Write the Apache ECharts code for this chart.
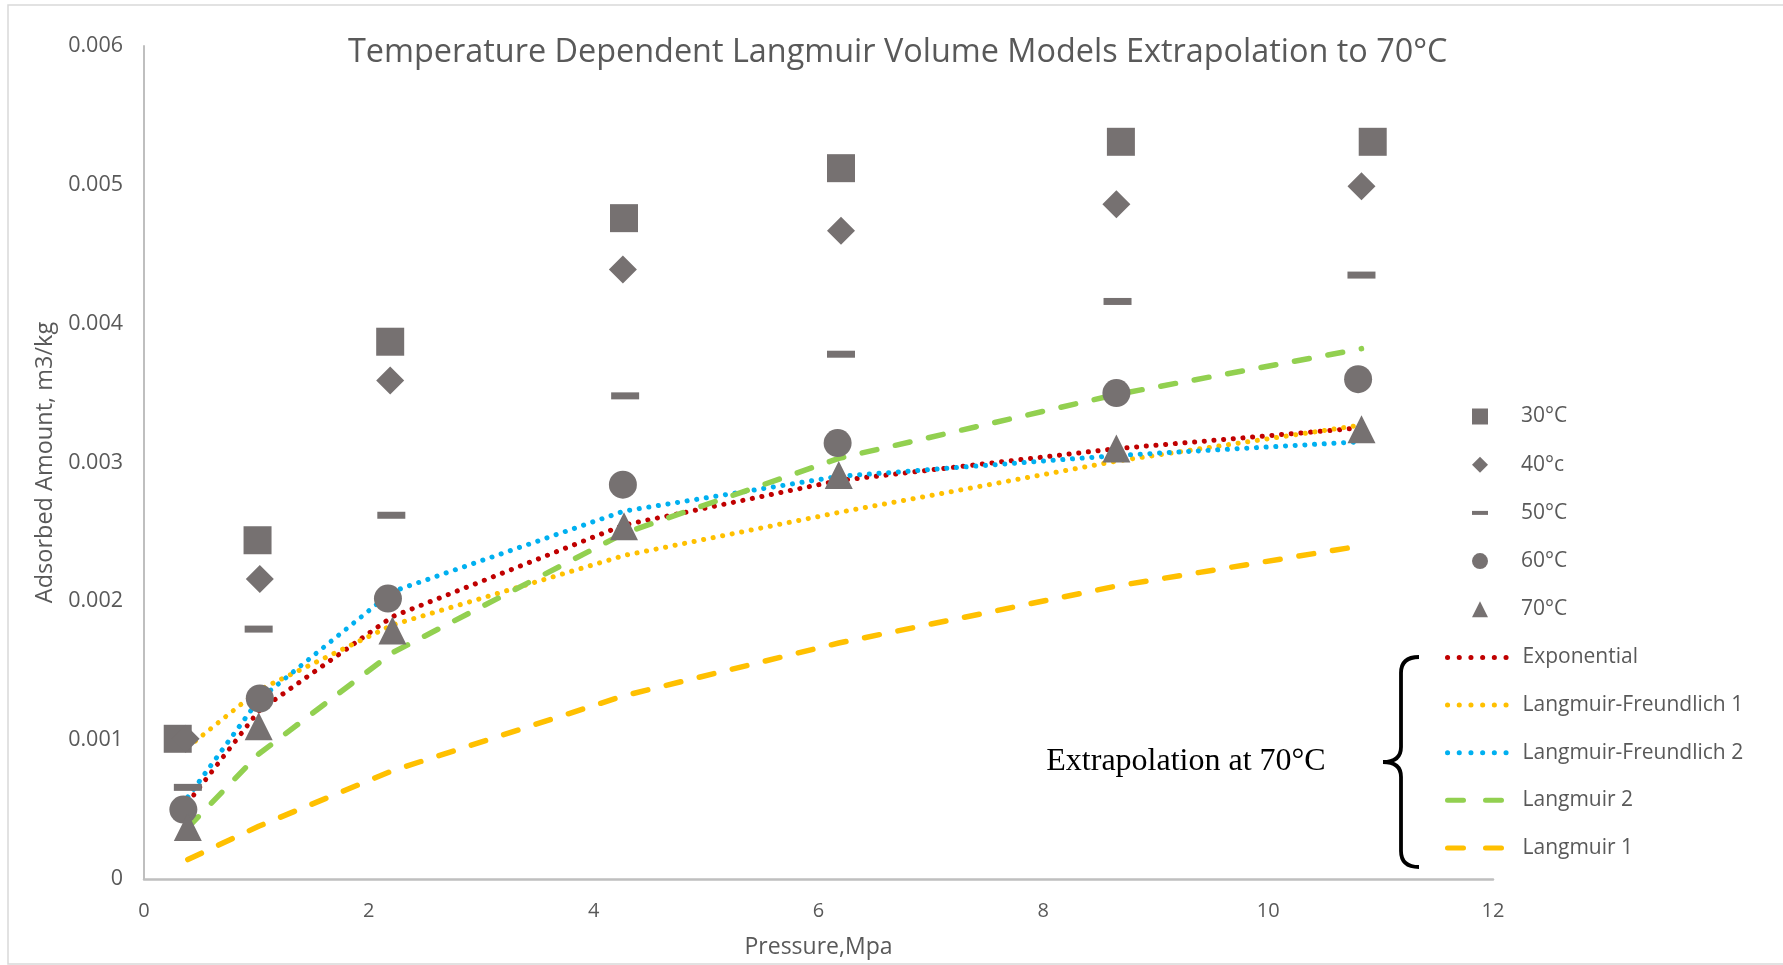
<!DOCTYPE html>
<html>
<head>
<meta charset="utf-8">
<script src="https://cdn.jsdelivr.net/npm/echarts@6/dist/echarts.min.js"></script>
<style>
  html, body { margin: 0; padding: 0; background: #fff; }
  #chart { width: 1783px; height: 965px; }
</style>
</head>
<body>
<div id="chart"></div>
<script>
// ---- data ----
const titleText = 'Temperature Dependent Langmuir Volume Models Extrapolation to 70°C';
const xAxisName = 'Pressure,Mpa';
const yAxisName = 'Adsorbed Amount, m3/kg';
const noteText = 'Extrapolation at 70°C';

// measured points (pressure MPa, adsorbed amount m3/kg)
const p30 = [0.30, 1.01, 2.19, 4.27, 6.20, 8.69, 10.93];
const v30 = [0.00101, 0.00244, 0.00387, 0.00476, 0.00512, 0.00531, 0.00531];
const p40 = [0.37, 1.03, 2.19, 4.26, 6.20, 8.65, 10.83];
const v40 = [0.00101, 0.00216, 0.00359, 0.00439, 0.00467, 0.00486, 0.00499];
const p50 = [0.39, 1.02, 2.20, 4.28, 6.20, 8.66, 10.83];
const v50 = [0.00066, 0.00180, 0.00262, 0.00348, 0.00378, 0.00416, 0.00435];
const p60 = [0.35, 1.03, 2.17, 4.26, 6.17, 8.65, 10.80];
const v60 = [0.00050, 0.00130, 0.00202, 0.00284, 0.00314, 0.00350, 0.00360];
const p70 = [0.39, 1.02, 2.21, 4.27, 6.18, 8.65, 10.83];
const v70 = [0.000375, 0.00110, 0.00179, 0.00254, 0.00291, 0.00310, 0.00324];

// model extrapolations at 70°C
const pModel = [0.39, 1.02, 2.21, 4.27, 6.18, 8.65, 10.83];
const exponential = [0.00055, 0.00121, 0.00189, 0.00255, 0.00287, 0.00310, 0.00325];
const langFreund1 = [0.00095, 0.00136, 0.00183, 0.00233, 0.00264, 0.00301, 0.00327];
const langFreund2 = [0.00059, 0.00129, 0.00207, 0.00265, 0.00290, 0.00305, 0.00315];
const langmuir2   = [0.00037, 0.00090, 0.00163, 0.00249, 0.00303, 0.00349, 0.00382];
const langmuir1   = [0.00014, 0.00038, 0.00078, 0.00132, 0.00170, 0.00211, 0.00240];

const pointNames = ['30°C', '40°c', '50°C', '60°C', '70°C'];
const modelNames = ['Exponential', 'Langmuir-Freundlich 1', 'Langmuir-Freundlich 2', 'Langmuir 2', 'Langmuir 1'];

const xTicks = { min: 0, max: 12, interval: 2 };
const yTicks = { min: 0, max: 0.006, interval: 0.001 };

// ---- helpers ----
const zip = (xs, ys) => xs.map((x, i) => [x, ys[i]]);
const GREY = '#767171';
const TXT = '#595959';
const FONT = '"Open Sans", sans-serif';
const DASH_ICON = 'path://M0,0h28v7h-28z';
const DOT = [0.1, 9.6];
const DASH = [15, 19];
const LEG_DOT = [0.1, 11.6];
const LEG_DASH = [16, 22];

function scatter(name, xs, ys, symbol, size) {
  return {
    name, type: 'scatter', data: zip(xs, ys), symbol, symbolSize: size,
    itemStyle: { color: GREY, opacity: 1 }, z: 5
  };
}
function model(name, ys, color, dotted) {
  return {
    name, type: 'line', data: zip(pModel, ys), symbol: 'circle', showSymbol: false, z: 3,
    lineStyle: dotted
      ? { color, width: 5, type: DOT, cap: 'round' }
      : { color, width: 5.5, type: DASH, cap: 'round' },
    itemStyle: { color }
  };
}

const braceStyle = { fill: 'none', stroke: '#000', lineWidth: 3.8 };
const bez = (x1, y1, cx, cy, x2, y2) => ({ type: 'bezierCurve', silent: true,
  shape: { x1, y1, cpx1: cx, cpy1: cy, x2, y2 }, style: braceStyle });
const seg = (x1, y1, x2, y2) => ({ type: 'line', silent: true,
  shape: { x1, y1, x2, y2 }, style: braceStyle });

const ROW = 48.2;      // legend row pitch
const LEG_TOP = 406;   // first legend row top

const chart = echarts.init(document.getElementById('chart'), null, { renderer: 'canvas' });

const option = {
  backgroundColor: '#fff',
  animation: false,
  title: {
    text: titleText,
    left: 348,
    top: 37,
    padding: 0,
    textStyle: { fontFamily: FONT, fontSize: 32.4, fontWeight: 'normal', color: TXT }
  },
  grid: { left: 144, right: 290, top: 46, bottom: 86, containLabel: false },
  xAxis: {
    type: 'value', min: xTicks.min, max: xTicks.max, interval: xTicks.interval,
    name: xAxisName, nameLocation: 'middle', nameGap: 57,
    nameTextStyle: { fontFamily: FONT, fontSize: 23, color: TXT },
    axisLine: { show: true, onZero: false, lineStyle: { color: '#BFBFBF', width: 2.5 } },
    axisTick: { show: false },
    splitLine: { show: false },
    axisLabel: { fontFamily: FONT, fontSize: 20, color: TXT, margin: 22 }
  },
  yAxis: {
    type: 'value', min: yTicks.min, max: yTicks.max, interval: yTicks.interval,
    name: yAxisName, nameLocation: 'middle', nameGap: 87,
    nameTextStyle: { fontFamily: FONT, fontSize: 23.5, color: TXT },
    axisLine: { show: true, lineStyle: { color: '#BFBFBF', width: 2 } },
    axisTick: { show: false },
    splitLine: { show: false },
    axisLabel: { fontFamily: FONT, fontSize: 21.5, color: TXT, margin: 21 }
  },
  legend: [
    {
      orient: 'vertical', left: 1472, top: LEG_TOP, padding: 0,
      itemWidth: 16, itemHeight: 16, itemGap: ROW - 21, symbolKeepAspect: true,
      textStyle: { fontFamily: FONT, fontSize: 21, color: TXT, lineHeight: 20, padding: [0, 0, 0, 28] },
      data: [
        { name: pointNames[0], icon: 'rect' },
        { name: pointNames[1], icon: 'diamond' },
        { name: pointNames[2], icon: DASH_ICON },
        { name: pointNames[3], icon: 'circle' },
        { name: pointNames[4], icon: 'triangle' }
      ]
    },
    {
      orient: 'vertical', left: 1445, top: LEG_TOP + 5 * ROW, padding: 0,
      itemWidth: 70, itemHeight: 16, itemGap: ROW - 21.6,
      lineStyle: { width: 5, cap: 'round' },
      textStyle: { fontFamily: FONT, fontSize: 21, color: TXT, lineHeight: 20 },
      data: modelNames.map((n, i) => ({
        name: n,
        itemStyle: { opacity: 0 },
        lineStyle: i < 3 ? { width: 5, type: LEG_DOT, cap: 'round' }
                         : { width: 5, type: LEG_DASH, cap: 'round' }
      }))
    }
  ],
  graphic: [
    { type: 'rect', shape: { x: 8, y: 5, width: 1790, height: 959 }, silent: true,
      style: { fill: 'none', stroke: '#D9D9D9', lineWidth: 1.5 }, z: -10 },
    { type: 'text', x: 1186, y: 762, silent: true,
      style: { text: noteText, fontFamily: '"Liberation Serif", "Times New Roman", serif',
               fontSize: 32, fill: '#000', align: 'center', verticalAlign: 'middle' } },
    bez(1419, 657, 1401, 657, 1401, 673),
    seg(1401, 673, 1401, 747),
    bez(1401, 747, 1401, 762, 1383, 762),
    bez(1383, 762, 1401, 762, 1401, 777),
    seg(1401, 777, 1401, 851),
    bez(1401, 851, 1401, 867, 1419, 867)
  ],
  series: [
    model(modelNames[0], exponential, '#C00000', true),
    model(modelNames[1], langFreund1, '#FFC000', true),
    model(modelNames[2], langFreund2, '#00B0F0', true),
    model(modelNames[3], langmuir2, '#92D050', false),
    model(modelNames[4], langmuir1, '#FFC000', false),
    scatter(pointNames[0], p30, v30, 'rect', 28),
    scatter(pointNames[1], p40, v40, 'diamond', 28),
    scatter(pointNames[2], p50, v50, 'rect', [28, 7]),
    scatter(pointNames[3], p60, v60, 'circle', 28),
    scatter(pointNames[4], p70, v70, 'triangle', 28)
  ]
};
chart.setOption(option);
</script>
</body>
</html>
